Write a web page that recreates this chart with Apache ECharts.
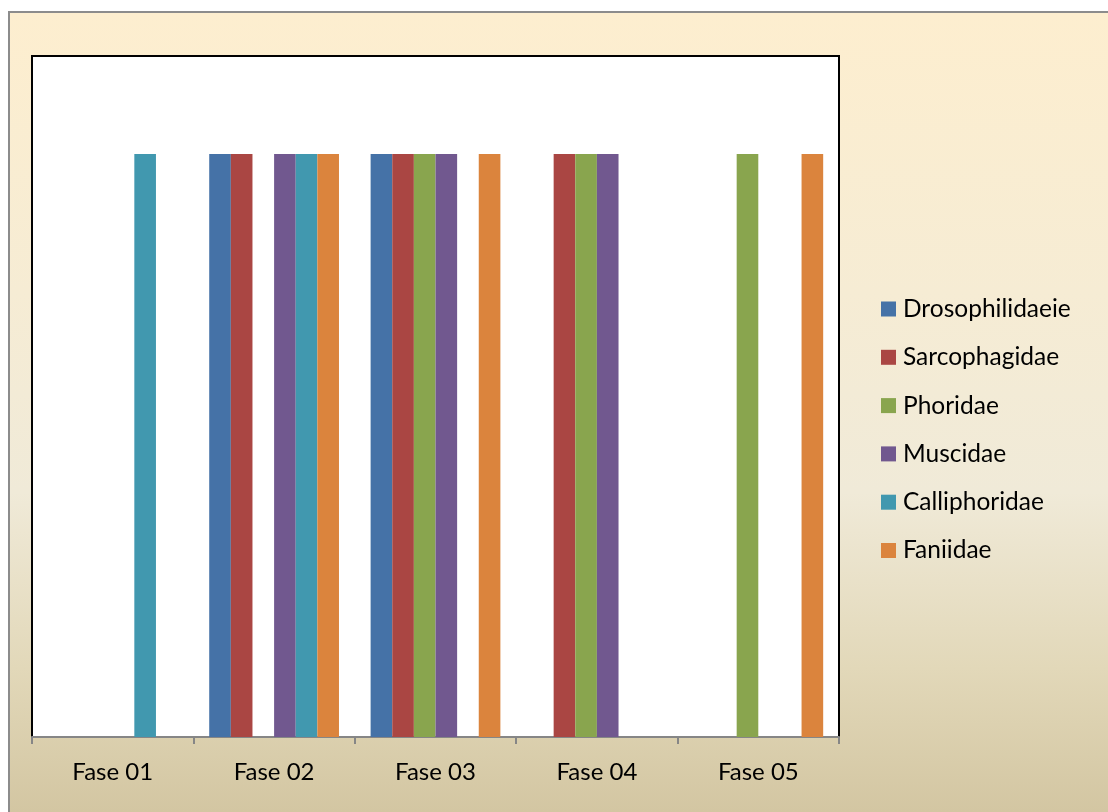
<!DOCTYPE html>
<html>
<head>
<meta charset="utf-8">
<script src="https://cdn.jsdelivr.net/npm/echarts@6/dist/echarts.min.js"></script>
<style>
  html, body { margin: 0; padding: 0; width: 1108px; height: 812px; background: #ffffff; overflow: hidden; }
  #frame {
    position: absolute; left: 8px; top: 11px; width: 1100px; height: 801px;
    border-left: 2px solid #8c8c8c; border-top: 2px solid #8c8c8c; box-sizing: border-box;
    background: linear-gradient(to bottom, #fdeecf 0%, #f6ecd4 35%, #f0ead8 60%, #e2d8b9 82%, #d3c6a2 100%);
  }
  #chart { position: absolute; left: 0; top: 0; width: 1108px; height: 812px; }
</style>
</head>
<body>
<div id="frame"></div>
<div id="chart"></div>
<script>
const categories = ['Fase 01', 'Fase 02', 'Fase 03', 'Fase 04', 'Fase 05'];
const seriesNames = ['Drosophilidaeie', 'Sarcophagidae', 'Phoridae', 'Muscidae', 'Calliphoridae', 'Faniidae'];
const drosophilidaeie = [0, 1, 1, 0, 0];
const sarcophagidae   = [0, 1, 1, 1, 0];
const phoridae        = [0, 0, 1, 1, 1];
const muscidae        = [0, 1, 1, 1, 0];
const calliphoridae   = [1, 1, 0, 0, 0];
const faniidae        = [0, 1, 1, 0, 1];
const seriesValues = [drosophilidaeie, sarcophagidae, phoridae, muscidae, calliphoridae, faniidae];
const colors = ['#4572a7', '#aa4643', '#89a54e', '#71588f', '#4198af', '#db843d'];

const chart = echarts.init(document.getElementById('chart'), null, { renderer: 'canvas' });
const font = 'Lato, "Open Sans", sans-serif';
chart.setOption({
  backgroundColor: 'transparent',
  animation: false,
  color: colors,
  grid: {
    left: 32, top: 56, right: 269, bottom: 75,
    show: true, backgroundColor: '#ffffff', borderColor: '#000000', borderWidth: 2
  },
  legend: {
    orient: 'vertical',
    left: 876, top: 291,
    itemWidth: 15, itemHeight: 15, itemGap: 22.3,
    icon: 'rect',
    textStyle: { fontFamily: font, fontSize: 24.5, lineHeight: 26, color: '#000000', padding: [0, 0, 0, 2] },
    data: seriesNames
  },
  xAxis: {
    type: 'category',
    data: categories,
    axisLine: { lineStyle: { color: '#868686', width: 2 } },
    axisTick: { show: true, length: 7, lineStyle: { color: '#868686', width: 2 } },
    axisLabel: { fontFamily: font, fontSize: 24, color: '#000000', margin: 23 },
    splitLine: { show: false }
  },
  yAxis: {
    type: 'value', min: 0, max: 1.168, show: false,
    splitLine: { show: false }
  },
  series: seriesValues.map((vals, i) => ({
    name: seriesNames[i],
    type: 'bar',
    data: vals,
    barGap: '0%',
    barCategoryGap: '19.6%'
  }))
});
</script>
</body>
</html>
